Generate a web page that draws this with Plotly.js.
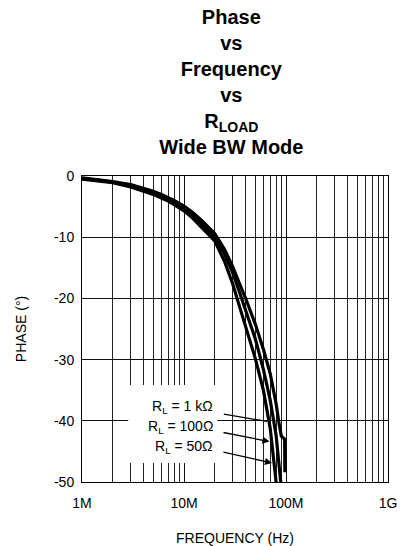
<!DOCTYPE html>
<html>
<head>
<meta charset="utf-8">
<script src="https://cdn.plot.ly/plotly-3.0.1.min.js"></script>
<style>html,body{margin:0;padding:0;background:#fff;}#chart{width:401px;height:546px;}</style>
</head>
<body>
<div id="chart"></div>
<script>
// Frequencies in Hz
var freq = [1e6, 2e6, 3e6, 4e6, 5e6, 6e6, 7e6, 8e6, 1e7, 1.2e7, 1.5e7, 2e7, 2.5e7, 3e7, 3.5e7, 4e7, 5e7, 6e7, 7e7, 8e7, 9e7];
// Phase (degrees) for each load
var phase50 = [-0.5, -1.1, -1.8, -2.4, -3.0, -3.6, -4.1, -4.7, -5.7, -6.8, -8.5, -10.6, -14.0, -17.6, -21.3, -24.4, -29.8, -35.0, -41.2, -50.0, -58.0];
var phase100 = [-0.4, -1.0, -1.6, -2.2, -2.8, -3.3, -3.8, -4.3, -5.3, -6.3, -7.9, -10.0, -12.8, -15.8, -19.0, -21.8, -26.6, -31.6, -36.6, -42.4, -51.0];
var freq1k = [1e6, 2e6, 3e6, 4e6, 5e6, 6e6, 7e6, 8e6, 1e7, 1.2e7, 1.5e7, 2e7, 2.5e7, 3e7, 3.5e7, 4e7, 5e7, 6e7, 7e7, 8e7, 8.5e7, 9e7, 9.7e7, 9.75e7];
var phase1k = [-0.3, -0.9, -1.4, -2.0, -2.5, -3.0, -3.5, -4.0, -4.9, -5.9, -7.3, -9.4, -12.0, -14.8, -17.6, -19.9, -24.2, -28.3, -32.3, -37.2, -40.2, -42.5, -43.0, -48.4];

// Axis ticks / gridlines
var xTickVals = [1e6, 1e7, 1e8, 1e9];
var xTickText = ['1M', '10M', '100M', '1G'];
var xMinorVals = [];
for (var d = 6; d < 9; d++) {
  for (var m = 2; m <= 9; m++) xMinorVals.push(m * Math.pow(10, d));
}
var yTickVals = [0, -10, -20, -30, -40, -50];
var yTickText = ['0', '-10', '-20', '-30', '-40', '-50'];

// Annotation labels and arrow end points (freq Hz, phase deg)
var labels = ['R<sub>L</sub> = 1 kΩ', 'R<sub>L</sub> = 100Ω', 'R<sub>L</sub> = 50Ω'];
var arrowTipF = [6.5e7, 6.9e7, 7.3e7];
var arrowTipP = [-40.1, -43.4, -46.9];
var arrowTailF = [2.27e7, 2.25e7, 2.25e7];
var arrowTailP = [-38.8, -41.8, -45.0];
var labelY = [-37.7, -41.0, -44.3];

var lineStyle = {color: '#000', width: 3.2};
var traces = [
  {x: freq, y: phase50, mode: 'lines', line: lineStyle, name: '50', showlegend: false, hoverinfo: 'skip'},
  {x: freq, y: phase100, mode: 'lines', line: lineStyle, name: '100', showlegend: false, hoverinfo: 'skip'},
  {x: freq1k, y: phase1k, mode: 'lines', line: lineStyle, name: '1k', showlegend: false, hoverinfo: 'skip'}
];

var font = 'Liberation Sans, Arial, Helvetica, sans-serif';
var annotations = [];
for (var i = 0; i < labels.length; i++) {
  annotations.push({
    xref: 'paper', yref: 'y', x: 0.4356, y: labelY[i], xanchor: 'right', yanchor: 'middle',
    text: labels[i], showarrow: false, font: {family: font, size: 14, color: '#000'}
  });
  annotations.push({
    xref: 'x', yref: 'y', axref: 'x', ayref: 'y',
    x: Math.log10(arrowTipF[i]), y: arrowTipP[i],
    ax: Math.log10(arrowTailF[i]), ay: arrowTailP[i],
    text: ' ', showarrow: true, arrowhead: i === 0 ? 0 : 2, arrowsize: 1.1, arrowwidth: 1.3,
    arrowcolor: '#000', standoff: 0, startstandoff: 0
  });
}

var layout = {
  width: 401, height: 546,
  margin: {l: 82, r: 13, t: 176, b: 64},
  paper_bgcolor: '#fff', plot_bgcolor: '#fff',
  font: {family: font, size: 14, color: '#000'},
  showlegend: false,
  title: {
    text: '<b>Phase<br>vs<br>Frequency<br>vs<br>R<sub>LOAD</sub><br>Wide BW Mode</b>',
    font: {family: font, size: 20, color: '#000'},
    x: 0.488, xref: 'paper', xanchor: 'center',
    y: 0.956, yref: 'container', yanchor: 'bottom'
  },
  xaxis: {
    type: 'log', range: [6, 9],
    tickmode: 'array', tickvals: xTickVals, ticktext: xTickText,
    showgrid: true, gridcolor: '#111', gridwidth: 1,
    minor: {tickmode: 'array', tickvals: xMinorVals, showgrid: true, gridcolor: '#222', gridwidth: 1, ticks: ''},
    showline: true, linecolor: '#000', linewidth: 1, mirror: true,
    ticks: '', ticklabelstandoff: 8,
    tickfont: {family: font, size: 14, color: '#000'},
    title: {text: 'FREQUENCY (Hz)', font: {family: font, size: 14, color: '#000'}, standoff: 23},
    zeroline: false, fixedrange: true
  },
  yaxis: {
    range: [-50, 0],
    tickmode: 'array', tickvals: yTickVals, ticktext: yTickText,
    showgrid: true, gridcolor: '#111', gridwidth: 1,
    showline: true, linecolor: '#000', linewidth: 1, mirror: true,
    ticks: '', ticklabelstandoff: 4,
    tickfont: {family: font, size: 14, color: '#000'},
    title: {text: 'PHASE (°)', font: {family: font, size: 14, color: '#000'}, standoff: 24},
    zeroline: false, fixedrange: true
  },
  shapes: [
    {type: 'rect', xref: 'paper', yref: 'paper', x0: 0.151, x1: 0.442, y0: 0.062, y1: 0.317,
     fillcolor: '#fff', line: {width: 0}, layer: 'above'}
  ],
  annotations: annotations
};

Plotly.newPlot('chart', traces, layout, {displayModeBar: false, staticPlot: true});
</script>
</body>
</html>
